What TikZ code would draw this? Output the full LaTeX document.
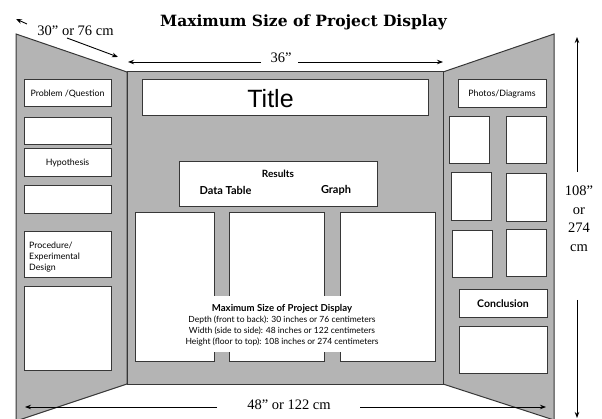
\documentclass[tikz,border=0pt]{standalone}
\usepackage{fontspec}
\setmainfont{Liberation Serif}
\newfontfamily\labelfont{Lato}
\newfontfamily\titlefont{Liberation Sans}
\newfontfamily\headfont{DejaVu Serif}
\usetikzlibrary{arrows.meta}

\definecolor{panelgray}{RGB}{180,180,180}
\definecolor{edgegray}{RGB}{55,55,55}

\begin{document}
\begin{tikzpicture}[x=1pt,y=-1pt,
  panel/.style={fill=panelgray, draw=edgegray, line width=1pt},
  wbox/.style={draw=edgegray, fill=white, line width=1pt, inner sep=0pt, outer sep=0pt},
  lbl/.style={font=\labelfont\fontsize{8.8}{11}\selectfont},
  boldlbl/.style={font=\labelfont\bfseries\fontsize{10.5}{12}\selectfont},
  dimtext/.style={font=\fontsize{14.5}{18.5}\selectfont, inner sep=1pt},
  dimarrow/.style={draw=black, line width=0.9pt, -{Stealth[length=6pt,width=4.5pt]}}
]
\useasboundingbox (0,0) rectangle (602,419);
\clip (0,0) rectangle (602,419);

% heading
\node[font=\headfont\bfseries\fontsize{15.5}{18}\selectfont, anchor=base, inner sep=0pt]
  (heading) at (303.5,27) {Maximum Size of Project Display};

% the three panels of the board
\draw[panel] (16,34) -- (127,72) -- (127,384) -- (16,421) -- cycle;
\draw[panel] (443,72) -- (554,34) -- (554,420) -- (443,384) -- cycle;
\draw[panel] (127,72) rectangle (443,384);

% left panel
\node[wbox, lbl, minimum width=87pt, minimum height=27pt] (prob) at (67.5,93.5) {Problem /Question};
\node[wbox, minimum width=87pt, minimum height=27pt] (blankA) at (67.5,131.5) {};
\node[wbox, lbl, minimum width=87pt, minimum height=28pt] (hyp) at (67.5,163) {Hypothesis};
\node[wbox, minimum width=87pt, minimum height=28pt] (blankB) at (67.5,200) {};
\node[wbox, minimum width=87pt, minimum height=46pt] (proc) at (67.5,255) {};
\node[lbl, align=left, anchor=west, inner sep=0pt] (proctext) at (29,257)
  {Procedure/\\Experimental\\Design};
\node[wbox, minimum width=87pt, minimum height=83pt] (blankC) at (67.5,328.5) {};

% centre panel
\node[wbox, minimum width=286pt, minimum height=36pt] (titlebox) at (285,98) {};
\node[font=\titlefont\fontsize{25}{28}\selectfont, inner sep=0pt] (titletext) at (270.5,99) {Title};
\node[wbox, minimum width=198pt, minimum height=45pt] (results) at (278,184.5) {};
\node[boldlbl, font=\labelfont\bfseries\fontsize{10}{12}\selectfont, inner sep=0pt] (restext) at (278,174) {Results};
\node[boldlbl, font=\labelfont\bfseries\fontsize{11}{12}\selectfont, inner sep=0pt] (tabletext) at (225.5,190) {Data Table};
\node[boldlbl, font=\labelfont\bfseries\fontsize{11}{12}\selectfont, inner sep=0pt] (graphtext) at (336,190) {Graph};
\node[wbox, minimum width=79pt, minimum height=148pt] (colA) at (174.5,287) {};
\node[wbox, minimum width=95pt, minimum height=148pt] (colB) at (276.5,287) {};
\node[wbox, minimum width=95pt, minimum height=148pt] (colC) at (387.5,287) {};
\node[fill=white, minimum width=150pt, minimum height=56pt, inner sep=0pt] (notebg) at (281,324) {};
\node[font=\labelfont\fontsize{8.5}{11}\selectfont, align=center, inner sep=0pt] (note) at (282,325)
  {{\bfseries\fontsize{9.6}{11}\selectfont Maximum Size of Project Display}\\
   Depth (front to back): 30 inches or 76 centimeters\\
   Width (side to side): 48 inches or 122 centimeters\\
   Height (floor to top): 108 inches or 274 centimeters};

% right panel
\node[wbox, lbl, minimum width=88pt, minimum height=28pt] (photos) at (502,94) {Photos/Diagrams};
\node[wbox, minimum width=40pt, minimum height=47pt] (ph11) at (469,140.5) {};
\node[wbox, minimum width=40pt, minimum height=47pt] (ph12) at (526,140.5) {};
\node[wbox, minimum width=40pt, minimum height=48pt] (ph21) at (471,197) {};
\node[wbox, minimum width=40pt, minimum height=48pt] (ph22) at (526,198) {};
\node[wbox, minimum width=40pt, minimum height=47pt] (ph31) at (472,254.5) {};
\node[wbox, minimum width=40pt, minimum height=47pt] (ph32) at (526,253.5) {};
\node[wbox, boldlbl, minimum width=88pt, minimum height=28pt] (concl) at (503,304) {Conclusion};
\node[wbox, minimum width=88pt, minimum height=46pt] (blankD) at (503,350) {};

% dimension labels
\node[dimtext, anchor=base] (depthlbl) at (75.5,36) {30” or 76 cm};
\node[dimtext, anchor=base] (toplbl) at (281,63) {36”};
\node[dimtext, align=center] (heightlbl) at (579,219) {108”\\or\\274\\cm};
\node[dimtext, anchor=base] (widthlbl) at (289,409) {48” or 122 cm};

% dimension arrows
\coordinate (dA1) at (27,24);   \coordinate (dA2) at (16,19);
\coordinate (dB1) at (67,38);   \coordinate (dB2) at (118,57);
\coordinate (tL1) at (261,62);  \coordinate (tL2) at (128,62);
\coordinate (tR1) at (298,62);  \coordinate (tR2) at (443,62);
\coordinate (hU1) at (577,172); \coordinate (hU2) at (577,37);
\coordinate (hD1) at (577,300); \coordinate (hD2) at (577,418);
\coordinate (bL1) at (217,407); \coordinate (bL2) at (25,407);
\coordinate (bR1) at (360,407); \coordinate (bR2) at (546,407);
\draw[dimarrow] (dA1) -- (dA2);
\draw[dimarrow] (dB1) -- (dB2);
\draw[dimarrow] (tL1) -- (tL2);
\draw[dimarrow] (tR1) -- (tR2);
\draw[dimarrow] (hU1) -- (hU2);
\draw[dimarrow] (hD1) -- (hD2);
\draw[dimarrow] (bL1) -- (bL2);
\draw[dimarrow] (bR1) -- (bR2);
\end{tikzpicture}
\end{document}
